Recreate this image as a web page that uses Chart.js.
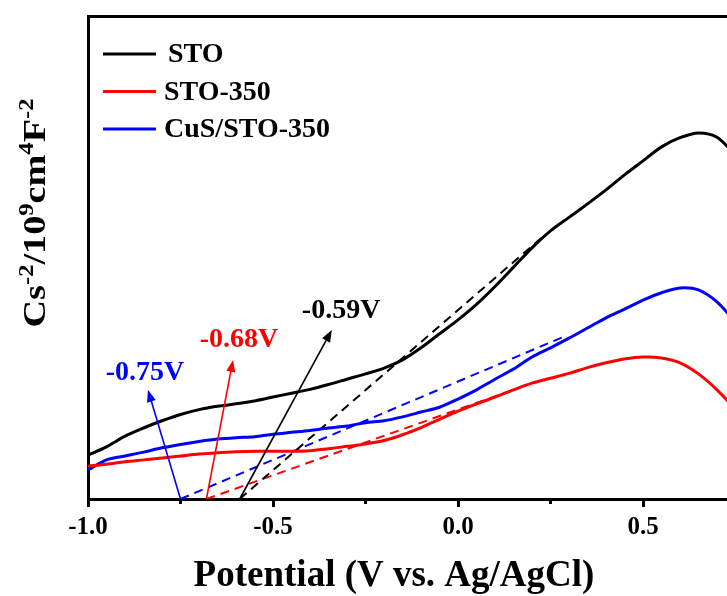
<!DOCTYPE html>
<html>
<head>
<meta charset="utf-8">
<script src="https://cdn.jsdelivr.net/npm/chart.js@4.4.1/dist/chart.umd.min.js"></script>
<style>
  html, body { margin: 0; padding: 0; background: #fff; }
  #wrap { width: 727px; height: 596px; }
</style>
</head>
<body>
<div id="wrap"><canvas id="chart"></canvas></div>
<script>
// ===== DATA =====
const potential = [-1.00, -0.95, -0.90, -0.85, -0.80, -0.75, -0.70, -0.65, -0.60, -0.55,
                   -0.50, -0.45, -0.40, -0.35, -0.30, -0.25, -0.20, -0.15, -0.10, -0.05,
                    0.00,  0.05,  0.10,  0.15,  0.20,  0.25,  0.30,  0.35,  0.40,  0.45,
                    0.50,  0.55,  0.60,  0.65,  0.70,  0.75];
const sto = [0.91, 1.08, 1.30, 1.47, 1.62, 1.75, 1.85, 1.92, 1.97, 2.03,
             2.11, 2.19, 2.27, 2.37, 2.48, 2.59, 2.71, 2.88, 3.13, 3.42,
             3.71, 4.03, 4.40, 4.80, 5.20, 5.55, 5.83, 6.11, 6.40, 6.71,
             7.00, 7.29, 7.48, 7.58, 7.49, 7.12];
const sto350 = [0.68, 0.72, 0.77, 0.81, 0.85, 0.89, 0.93, 0.96, 0.98, 0.99,
                0.99, 0.99, 1.00, 1.04, 1.09, 1.14, 1.21, 1.33, 1.48, 1.65,
                1.82, 1.97, 2.11, 2.26, 2.40, 2.50, 2.60, 2.72, 2.82, 2.90,
                2.94, 2.92, 2.82, 2.59, 2.26, 1.86];
const cusSto350 = [0.60, 0.81, 0.89, 0.97, 1.06, 1.13, 1.19, 1.24, 1.27, 1.29,
                   1.34, 1.38, 1.42, 1.47, 1.51, 1.58, 1.62, 1.70, 1.80, 1.90,
                   2.07, 2.26, 2.48, 2.69, 2.94, 3.13, 3.33, 3.54, 3.75, 3.93,
                   4.12, 4.27, 4.37, 4.33, 4.08, 3.66];

// linear fits: x-intercept (flat band potential) to end of the fit
const stoFitX = [-0.59, 0.235],       stoFitY = [0, 5.47];
const sto350FitX = [-0.68, 0.208],    sto350FitY = [0, 2.42];
const cusSto350FitX = [-0.75, 0.289], cusSto350FitY = [0, 3.37];

// arrows: from the intercept up to the label
const arrowLabels = ['-0.59V', '-0.68V', '-0.75V'];
const arrowBaseX = [-0.59, -0.68, -0.75];
const arrowTipX = [-0.341, -0.608, -0.838];
const arrowTipY = [3.50, 2.88, 2.26];
const arrowTextX = [-0.316, -0.592, -0.846];
const arrowTextY = [3.89, 3.29, 2.61];
const arrowColors = ['#000000', '#ff0000', '#0000ff'];

const xTicks = [-1.0, -0.5, 0.0, 0.5];
const xMinorTicks = [-0.75, -0.25, 0.25];

const FONT = "'Liberation Serif', 'Times New Roman', serif";

function pts(xs, ys) {
  return xs.map((x, i) => ({ x: x, y: ys[i] }));
}

// ===== EXTRA DRAWING =====
const extras = {
  id: 'extras',
  afterDatasetsDraw(chart) {
    const ctx = chart.ctx;
    const xs = chart.scales.x, ys = chart.scales.y;

    // arrows + labels
    arrowLabels.forEach((txt, i) => {
      const x0 = xs.getPixelForValue(arrowBaseX[i]), y0 = ys.getPixelForValue(0);
      const x1 = xs.getPixelForValue(arrowTipX[i]), y1 = ys.getPixelForValue(arrowTipY[i]);
      const ang = Math.atan2(y1 - y0, x1 - x0);
      const len = 12, hw = 4.5;
      ctx.save();
      ctx.strokeStyle = arrowColors[i];
      ctx.fillStyle = arrowColors[i];
      ctx.lineWidth = 1.6;
      ctx.beginPath();
      ctx.moveTo(x0, y0);
      ctx.lineTo(x1 - Math.cos(ang) * len * 0.8, y1 - Math.sin(ang) * len * 0.8);
      ctx.stroke();
      ctx.beginPath();
      ctx.moveTo(x1, y1);
      ctx.lineTo(x1 - Math.cos(ang) * len - Math.sin(ang) * hw, y1 - Math.sin(ang) * len + Math.cos(ang) * hw);
      ctx.lineTo(x1 - Math.cos(ang) * len + Math.sin(ang) * hw, y1 - Math.sin(ang) * len - Math.cos(ang) * hw);
      ctx.closePath();
      ctx.fill();
      ctx.font = 'bold 28px ' + FONT;
      ctx.textAlign = 'center';
      ctx.textBaseline = 'middle';
      ctx.fillText(txt, xs.getPixelForValue(arrowTextX[i]), ys.getPixelForValue(arrowTextY[i]));
      ctx.restore();
    });
  },
  afterDraw(chart) {
    const ctx = chart.ctx;
    const xs = chart.scales.x;
    const area = chart.chartArea;

    // minor ticks
    ctx.save();
    ctx.strokeStyle = '#000';
    ctx.lineWidth = 3;
    xMinorTicks.forEach(v => {
      const px = xs.getPixelForValue(v);
      ctx.beginPath();
      ctx.moveTo(px, area.bottom);
      ctx.lineTo(px, area.bottom + 5);
      ctx.stroke();
    });
    ctx.restore();

    // legend
    ctx.save();
    ctx.font = 'bold 28px ' + FONT;
    ctx.textBaseline = 'middle';
    chart.data.datasets.slice(0, 3).forEach((ds, i) => {
      const y = area.top + 38 + i * 37.5;
      ctx.strokeStyle = ds.borderColor;
      ctx.lineWidth = 3;
      ctx.beginPath();
      ctx.moveTo(area.left + 15, y);
      ctx.lineTo(area.left + 68, y);
      ctx.stroke();
      ctx.fillStyle = '#000';
      ctx.fillText(ds.label, area.left + (i === 0 ? 80 : 76), y + 1);
    });
    ctx.restore();

    // x title
    ctx.save();
    ctx.font = 'bold 37px ' + FONT;
    ctx.fillStyle = '#000';
    ctx.textAlign = 'center';
    ctx.textBaseline = 'alphabetic';
    ctx.fillText('Potential (V vs. Ag/AgCl)', area.left + 306, 586);
    ctx.restore();

    // y title with superscripts
    const parts = [['Cs', 0], ['-2', 1], ['/10', 0], ['9', 1], ['cm', 0], ['4', 1], ['F', 0], ['-2', 1]];
    const base = 31, sup = 20;
    ctx.save();
    ctx.fillStyle = '#000';
    let w = 0;
    parts.forEach(p => {
      ctx.font = 'bold ' + (p[1] ? sup : base) + 'px ' + FONT;
      w += ctx.measureText(p[0]).width;
    });
    ctx.translate(45, 213);
    ctx.rotate(-Math.PI / 2);
    ctx.scale(229 / w, 1);
    let x = -w / 2;
    ctx.textBaseline = 'alphabetic';
    parts.forEach(p => {
      ctx.font = 'bold ' + (p[1] ? sup : base) + 'px ' + FONT;
      ctx.fillText(p[0], x, p[1] ? -base * 0.4 : 0);
      x += ctx.measureText(p[0]).width;
    });
    ctx.restore();
  }
};

// ===== CHART =====
const solid = (label, color, ys) => ({
  label: label, data: pts(potential, ys), borderColor: color, borderWidth: 3,
  pointRadius: 0, tension: 0.3, fill: false
});
const dashed = (color, xs, ys) => ({
  label: '', data: pts(xs, ys), borderColor: color, borderWidth: 2,
  borderDash: [9, 6], pointRadius: 0, tension: 0, fill: false
});

new Chart(document.getElementById('chart'), {
  type: 'line',
  data: {
    datasets: [
      solid('STO', '#000000', sto),
      solid('STO-350', '#ff0000', sto350),
      solid('CuS/STO-350', '#0000ff', cusSto350),
      dashed('#000000', stoFitX, stoFitY),
      dashed('#ff0000', sto350FitX, sto350FitY),
      dashed('#0000ff', cusSto350FitX, cusSto350FitY)
    ]
  },
  options: {
    responsive: true,
    maintainAspectRatio: false,
    animation: false,
    layout: { padding: 0 },
    plugins: { legend: { display: false }, tooltip: { enabled: false } },
    scales: {
      x: {
        type: 'linear', position: 'bottom', min: -1.0, max: 0.727,
        afterBuildTicks: s => { s.ticks = xTicks.map(v => ({ value: v })); },
        afterFit: s => { s.height = 97; },
        ticks: {
          color: '#000', font: { family: FONT, size: 25, weight: 'bold' }, padding: 6,
          callback: v => v.toFixed(1)
        },
        grid: { display: true, drawOnChartArea: false, drawTicks: true, tickLength: 8, tickWidth: 3, tickColor: '#000' },
        border: { display: true, width: 3, color: '#000' }
      },
      x2: {
        type: 'linear', position: 'top', min: -1.0, max: 0.727,
        afterFit: s => { s.height = 16; },
        ticks: { display: false },
        grid: { display: false },
        border: { display: true, width: 3, color: '#000' }
      },
      y: {
        type: 'linear', min: 0, max: 10,
        afterFit: s => { s.width = 88; },
        ticks: { display: false },
        grid: { display: false },
        border: { display: true, width: 3, color: '#000' }
      }
    }
  },
  plugins: [extras]
});
</script>
</body>
</html>
